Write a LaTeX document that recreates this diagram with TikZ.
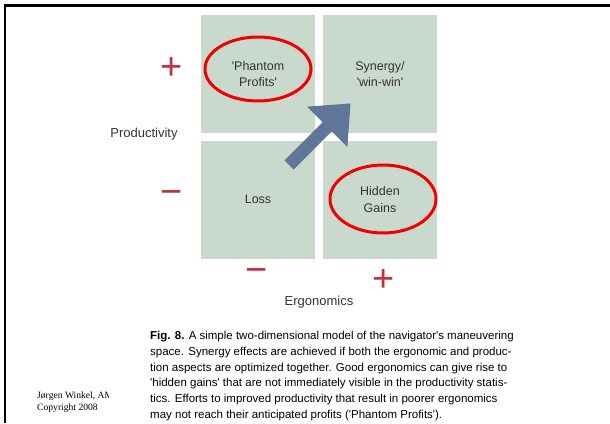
\documentclass[tikz,border=0pt]{standalone}
\usepackage{fontspec}
\setmainfont{Liberation Sans}[Ligatures=TeXOff]
\newfontfamily\serifnote{Liberation Serif}
\definecolor{quad}{HTML}{C9D9CD}
\definecolor{sign}{HTML}{C0313D}
\definecolor{ring}{HTML}{F20000}
\definecolor{arrowblue}{HTML}{5F7698}
\definecolor{txt}{HTML}{333333}
\tikzset{
  quadbox/.style={fill=quad, minimum width=114pt, minimum height=118pt, inner sep=0pt, draw=none, text=txt, align=center, font=\fontsize{12.5}{16.5}\selectfont},
  ringmark/.style={ellipse, draw=ring, line width=3pt, inner sep=0pt},
  signmark/.style={text=sign, font=\fontsize{38}{38}\selectfont, inner sep=0pt},
  axislabel/.style={text=txt, font=\fontsize{13}{15}\selectfont, inner sep=0pt},
}
\usetikzlibrary{shapes.geometric}
\begin{document}
\begin{tikzpicture}[x=1pt,y=-1pt]
\useasboundingbox (0,0) rectangle (610,423);
% frame
\draw[line width=3pt] (4,5) -- (610,5);
\draw[line width=2.5pt] (5,5) -- (5,423);
% quadrants
\node[quadbox] (pp) at (258,74) {'Phantom\\Profits'};
\node[quadbox] (sy) at (380,74) {Synergy/\\'win-win'};
\node[quadbox] (lo) at (258,199.5) {Loss};
\node[quadbox] (hg) at (380,199.5) {Hidden\\Gains};
% rings
\node[ringmark, minimum width=106pt, minimum height=64pt] (r1) at (258,69) {};
\node[ringmark, minimum width=106pt, minimum height=68pt] (r2) at (383,199) {};
% arrow
\begin{scope}[shift={(289,165)}, rotate=45]
\fill[arrowblue] (0,-6.5) -- (54,-6.5) -- (54,-28.5) -- (87,0) -- (54,28.5) -- (54,6.5) -- (0,6.5) -- cycle;
\end{scope}
% signs
\node[signmark] (pplus) at (172,69) {+};
\node[signmark] (pminus) at (172,198) {−};
\node[signmark] (eminus) at (257,276) {−};
\node[signmark] (eplus) at (384,281) {+};
% axis labels
\node[axislabel] (prod) at (144,134) {Productivity};
\node[axislabel] (ergo) at (319,302) {Ergonomics};
% caption
\node[anchor=north west, inner sep=0pt, align=left, text=black, font=\fontsize{11.5}{15.8}\selectfont] (cap) at (150,331) {\textbf{Fig. 8.} A simple two-dimensional model of the navigator's maneuvering\\space. Synergy effects are achieved if both the ergonomic and produc-\\tion aspects are optimized together. Good ergonomics can give rise to\\'hidden gains' that are not immediately visible in the productivity statis-\\tics. Efforts to improved productivity that result in poorer ergonomics\\may not reach their anticipated profits ('Phantom Profits').};
% credit
\begin{scope}
\clip (30,385) rectangle (108.5,420);
\node[anchor=north west, inner sep=0pt, align=left, font=\serifnote\fontsize{9.6}{11.5}\selectfont] (credit) at (37,392) {Jørgen Winkel, AM\\Copyright 2008};
\end{scope}
\end{tikzpicture}
\end{document}
